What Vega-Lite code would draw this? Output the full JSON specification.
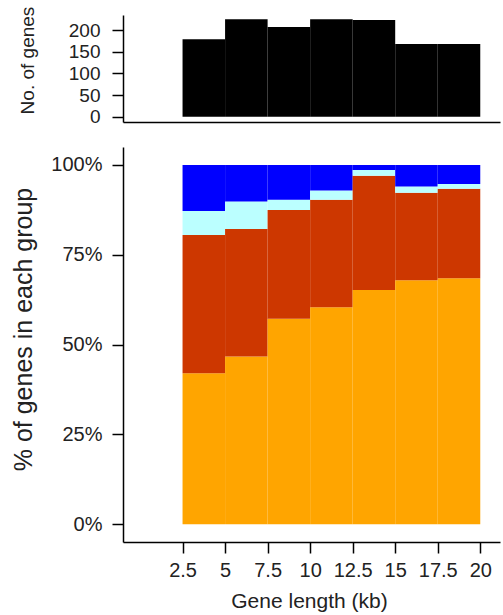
{
  "$schema": "https://vega.github.io/schema/vega-lite/v6.json",
  "padding": {"left": 11, "top": 6, "right": 3, "bottom": 3},
  "bounds": "flush",
  "spacing": 25,
  "config": {
    "view": {"stroke": null},
    "font": "Liberation Sans",
    "axis": {
      "grid": false,
      "domainColor": "#000000",
      "domainWidth": 1.5,
      "tickColor": "#000000",
      "tickWidth": 1.5,
      "labelColor": "#222222",
      "titleColor": "#222222",
      "titleFontWeight": "normal",
      "labelFont": "Liberation Sans",
      "titleFont": "Liberation Sans"
    }
  },
  "datasets": {
    "counts": [
      {"start": 2.5, "end": 5, "genes": 179},
      {"start": 5, "end": 7.5, "genes": 225},
      {"start": 7.5, "end": 10, "genes": 207},
      {"start": 10, "end": 12.5, "genes": 225},
      {"start": 12.5, "end": 15, "genes": 223},
      {"start": 15, "end": 17.5, "genes": 168},
      {"start": 17.5, "end": 20, "genes": 168}
    ],
    "shares": [
      {"start": 2.5, "end": 5, "group": "Group 1", "order": 1, "pct": 42.0},
      {"start": 2.5, "end": 5, "group": "Group 2", "order": 2, "pct": 38.5},
      {"start": 2.5, "end": 5, "group": "Group 3", "order": 3, "pct": 6.7},
      {"start": 2.5, "end": 5, "group": "Group 4", "order": 4, "pct": 12.8},
      {"start": 5, "end": 7.5, "group": "Group 1", "order": 1, "pct": 46.7},
      {"start": 5, "end": 7.5, "group": "Group 2", "order": 2, "pct": 35.5},
      {"start": 5, "end": 7.5, "group": "Group 3", "order": 3, "pct": 7.6},
      {"start": 5, "end": 7.5, "group": "Group 4", "order": 4, "pct": 10.2},
      {"start": 7.5, "end": 10, "group": "Group 1", "order": 1, "pct": 57.2},
      {"start": 7.5, "end": 10, "group": "Group 2", "order": 2, "pct": 30.3},
      {"start": 7.5, "end": 10, "group": "Group 3", "order": 3, "pct": 2.8},
      {"start": 7.5, "end": 10, "group": "Group 4", "order": 4, "pct": 9.7},
      {"start": 10, "end": 12.5, "group": "Group 1", "order": 1, "pct": 60.4},
      {"start": 10, "end": 12.5, "group": "Group 2", "order": 2, "pct": 29.9},
      {"start": 10, "end": 12.5, "group": "Group 3", "order": 3, "pct": 2.6},
      {"start": 10, "end": 12.5, "group": "Group 4", "order": 4, "pct": 7.1},
      {"start": 12.5, "end": 15, "group": "Group 1", "order": 1, "pct": 65.2},
      {"start": 12.5, "end": 15, "group": "Group 2", "order": 2, "pct": 31.8},
      {"start": 12.5, "end": 15, "group": "Group 3", "order": 3, "pct": 1.6},
      {"start": 12.5, "end": 15, "group": "Group 4", "order": 4, "pct": 1.4},
      {"start": 15, "end": 17.5, "group": "Group 1", "order": 1, "pct": 67.9},
      {"start": 15, "end": 17.5, "group": "Group 2", "order": 2, "pct": 24.4},
      {"start": 15, "end": 17.5, "group": "Group 3", "order": 3, "pct": 1.7},
      {"start": 15, "end": 17.5, "group": "Group 4", "order": 4, "pct": 6.0},
      {"start": 17.5, "end": 20, "group": "Group 1", "order": 1, "pct": 68.5},
      {"start": 17.5, "end": 20, "group": "Group 2", "order": 2, "pct": 24.9},
      {"start": 17.5, "end": 20, "group": "Group 3", "order": 3, "pct": 1.3},
      {"start": 17.5, "end": 20, "group": "Group 4", "order": 4, "pct": 5.3}
    ]
  },
  "vconcat": [
    {
      "width": 377,
      "height": 107,
      "data": {"name": "counts"},
      "mark": {"type": "bar", "color": "#000000"},
      "encoding": {
        "x": {
          "field": "start",
          "type": "quantitative",
          "scale": {"domain": [-1, 21.16], "nice": false, "zero": false},
          "axis": {"labels": false, "ticks": false, "title": null, "domain": true}
        },
        "x2": {"field": "end"},
        "y": {
          "field": "genes",
          "type": "quantitative",
          "scale": {"domain": [-12.2, 234.7], "nice": false, "zero": false},
          "axis": {
            "values": [0, 50, 100, 150, 200],
            "title": "No. of genes",
            "labelFontSize": 19,
            "tickSize": 11,
            "labelPadding": 12,
            "titleFontSize": 19,
            "titleX": -90,
            "titleY": 45,
            "titleBaseline": "alphabetic"
          }
        },
        "y2": {"datum": 0}
      }
    },
    {
      "width": 377,
      "height": 395,
      "data": {"name": "shares"},
      "transform": [
        {"stack": "pct", "groupby": ["start"], "sort": [{"field": "order", "order": "ascending"}], "as": ["lo", "hi"]}
      ],
      "mark": {"type": "bar"},
      "encoding": {
        "x": {
          "field": "start",
          "type": "quantitative",
          "scale": {"domain": [-1, 21.16], "nice": false, "zero": false},
          "axis": {
            "values": [2.5, 5, 7.5, 10, 12.5, 15, 17.5, 20],
            "labelExpr": "'' + datum.value",
            "labelFontSize": 20,
            "labelOverlap": false,
            "tickSize": 11,
            "labelPadding": 7,
            "title": "Gene length (kb)",
            "titleFontSize": 21,
            "titleX": 186,
            "titleY": 65,
            "titleBaseline": "alphabetic"
          }
        },
        "x2": {"field": "end"},
        "y": {
          "field": "lo",
          "type": "quantitative",
          "scale": {"domain": [-4.93, 105], "nice": false, "zero": false},
          "axis": {
            "values": [0, 25, 50, 75, 100],
            "labelExpr": "datum.value + '%'",
            "title": "% of genes in each group",
            "labelFontSize": 20,
            "tickSize": 11,
            "labelPadding": 10,
            "titleFontSize": 25,
            "titleX": -91.3,
            "titleY": 182,
            "titleBaseline": "alphabetic"
          }
        },
        "y2": {"field": "hi"},
        "color": {
          "field": "group",
          "type": "nominal",
          "scale": {
            "domain": ["Group 1", "Group 2", "Group 3", "Group 4"],
            "range": ["#FFA500", "#CD3700", "#BBFFFF", "#0000FF"]
          },
          "legend": null
        }
      }
    }
  ]
}
